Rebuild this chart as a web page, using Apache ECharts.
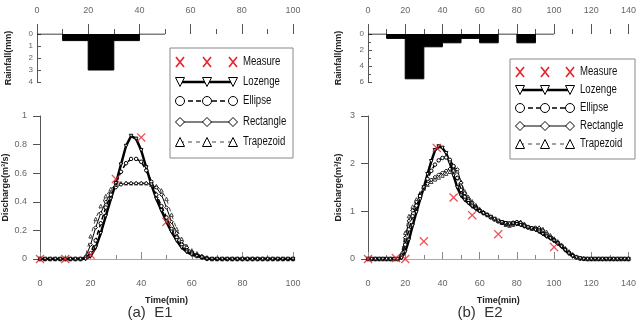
<!DOCTYPE html>
<html lang="en">

<head>
  <meta charset="UTF-8">
  <title>Rainfall and discharge E1 / E2</title>
  <script src="https://cdn.jsdelivr.net/npm/echarts@6/dist/echarts.min.js"></script>
</head>

<body style="margin:0">
  <div id="chart" style="width: 639px; height: 321px;"></div>
  <script>
    // rainfall (mm), one value per 10 min block starting at time
    var rainTimeE1 = [0, 10, 20, 30, 40, 50];
    var rainE1 = [0, 0.55, 3, 0.55, 0, 0];
    var rainTimeE2 = [0, 10, 20, 30, 40, 50, 60, 70, 80, 90, 100];
    var rainE2 = [0, 0.55, 5.6, 1.6, 1.1, 0.55, 1.1, 0, 1.1, 0, 0];

    // measured discharge (m3/s)
    var measTimeE1 = [0, 10, 20, 30, 40, 50];
    var measE1 = [0, 0, 0.03, 0.56, 0.85, 0.26];
    var measTimeE2 = [0, 15, 20, 30, 37, 46, 56, 70, 100];
    var measE2 = [0, 0.02, 0, 0.37, 2.33, 1.29, 0.92, 0.52, 0.25];

    // simulated discharge, every 2 min
    var timeE1 = [0, 2, 4, 6, 8, 10, 12, 14, 16, 18, 20, 22, 24, 26, 28, 30, 32, 34, 36, 38,
      40, 42, 44, 46, 48, 50, 52, 54, 56, 58, 60, 62, 64, 66, 68, 70, 72, 74, 76, 78,
      80, 82, 84, 86, 88, 90, 92, 94, 96, 98, 100];
    var lozE1 = [0, 0, 0, 0, 0, 0, 0, 0, 0, 0,
      0.02, 0.08, 0.18, 0.30, 0.42, 0.53, 0.66, 0.79, 0.86, 0.84,
      0.76, 0.64, 0.52, 0.42, 0.34, 0.26, 0.19, 0.13, 0.08, 0.05,
      0.03, 0.02, 0.01, 0, 0, 0, 0, 0, 0, 0,
      0, 0, 0, 0, 0, 0, 0, 0, 0, 0, 0];
    var ellE1 = [0, 0, 0, 0, 0, 0, 0, 0, 0, 0.01,
      0.04, 0.13, 0.25, 0.36, 0.45, 0.53, 0.61, 0.67, 0.70, 0.70,
      0.68, 0.62, 0.54, 0.45, 0.37, 0.29, 0.21, 0.15, 0.10, 0.06,
      0.04, 0.02, 0.01, 0, 0, 0, 0, 0, 0, 0,
      0, 0, 0, 0, 0, 0, 0, 0, 0, 0, 0];
    var recE1 = [0, 0, 0, 0, 0, 0, 0, 0, 0, 0.01,
      0.10, 0.22, 0.32, 0.40, 0.46, 0.50, 0.52, 0.53, 0.53, 0.53,
      0.53, 0.53, 0.52, 0.50, 0.45, 0.36, 0.26, 0.18, 0.12, 0.08,
      0.05, 0.03, 0.02, 0.01, 0, 0, 0, 0, 0, 0,
      0, 0, 0, 0, 0, 0, 0, 0, 0, 0, 0];
    var trapE1 = [0, 0, 0, 0, 0, 0, 0, 0, 0, 0.02,
      0.16, 0.28, 0.37, 0.44, 0.49, 0.52, 0.53, 0.53, 0.53, 0.53,
      0.53, 0.53, 0.52, 0.51, 0.48, 0.42, 0.31, 0.21, 0.14, 0.09,
      0.06, 0.04, 0.02, 0.01, 0, 0, 0, 0, 0, 0,
      0, 0, 0, 0, 0, 0, 0, 0, 0, 0, 0];

    var timeE2 = [0, 2, 4, 6, 8, 10, 12, 14, 16, 18, 20, 22, 24, 26, 28, 30, 32, 34, 36, 38,
      40, 42, 44, 46, 48, 50, 52, 54, 56, 58, 60, 62, 64, 66, 68, 70, 72, 74, 76, 78,
      80, 82, 84, 86, 88, 90, 92, 94, 96, 98, 100, 102, 104, 106, 108, 110, 112, 114, 116, 118,
      120, 122, 124, 126, 128, 130, 132, 134, 136, 138, 140];
    var lozE2 = [0, 0, 0, 0, 0, 0, 0, 0, 0, 0.02,
      0.15, 0.40, 0.70, 0.98, 1.25, 1.50, 1.78, 2.05, 2.28, 2.36,
      2.33, 2.22, 2.02, 1.75, 1.50, 1.33, 1.24, 1.17, 1.10, 1.05,
      1.00, 0.96, 0.92, 0.88, 0.84, 0.80, 0.77, 0.75, 0.74, 0.74,
      0.73, 0.71, 0.68, 0.66, 0.64, 0.61, 0.57, 0.52, 0.47, 0.43,
      0.38, 0.32, 0.26, 0.18, 0.11, 0.06, 0.03, 0.01, 0, 0,
      0, 0, 0, 0, 0, 0, 0, 0, 0, 0, 0];
    var ellE2 = [0, 0, 0, 0, 0, 0, 0, 0, 0, 0.05,
      0.30, 0.62, 0.90, 1.12, 1.32, 1.50, 1.68, 1.85, 1.98, 2.07,
      2.12, 2.13, 2.08, 1.95, 1.70, 1.45, 1.30, 1.22, 1.14, 1.07,
      1.01, 0.96, 0.92, 0.87, 0.83, 0.79, 0.76, 0.74, 0.74, 0.76,
      0.77, 0.75, 0.70, 0.66, 0.64, 0.63, 0.60, 0.55, 0.49, 0.44,
      0.39, 0.33, 0.27, 0.20, 0.13, 0.07, 0.03, 0.01, 0, 0,
      0, 0, 0, 0, 0, 0, 0, 0, 0, 0, 0];
    var recE2 = [0, 0, 0, 0, 0, 0, 0, 0, 0, 0.08,
      0.45, 0.80, 1.02, 1.20, 1.35, 1.48, 1.58, 1.66, 1.72, 1.77,
      1.81, 1.85, 1.89, 1.93, 1.88, 1.60, 1.38, 1.26, 1.18, 1.10,
      1.03, 0.98, 0.93, 0.88, 0.83, 0.79, 0.75, 0.72, 0.71, 0.74,
      0.78, 0.77, 0.72, 0.67, 0.65, 0.66, 0.65, 0.60, 0.53, 0.47,
      0.41, 0.35, 0.28, 0.21, 0.14, 0.08, 0.04, 0.02, 0.01, 0,
      0, 0, 0, 0, 0, 0, 0, 0, 0, 0, 0];
    var trapE2 = [0, 0, 0, 0, 0, 0, 0, 0, 0, 0.12,
      0.55, 0.90, 1.10, 1.25, 1.38, 1.48, 1.56, 1.62, 1.67, 1.71,
      1.75, 1.79, 1.83, 1.86, 1.84, 1.62, 1.42, 1.30, 1.21, 1.13,
      1.05, 0.99, 0.94, 0.89, 0.84, 0.80, 0.76, 0.72, 0.70, 0.72,
      0.77, 0.78, 0.74, 0.68, 0.64, 0.65, 0.66, 0.63, 0.57, 0.50,
      0.43, 0.37, 0.30, 0.23, 0.16, 0.10, 0.05, 0.02, 0.01, 0,
      0, 0, 0, 0, 0, 0, 0, 0, 0, 0, 0];

    var narrow = "'Liberation Sans Narrow', 'Liberation Sans', sans-serif";
    var crossPath = 'path://M0,1L1,0L5,4L9,0L10,1L6,5L10,9L9,10L5,6L1,10L0,9L4,5Z';
    var red = '#e5242b';

    // line look of each model
    var models = [
      { name: 'Lozenge', symbol: 'triangle', rotate: 180, width: 2.5, dash: 'solid', color: '#000' },
      { name: 'Ellipse', symbol: 'circle', rotate: 0, width: 1.6, dash: [5, 3], color: '#000' },
      { name: 'Rectangle', symbol: 'diamond', rotate: 0, width: 1, dash: 'solid', color: '#000' },
      { name: 'Trapezoid', symbol: 'triangle', rotate: 0, width: 1, dash: [4, 4], color: '#444' }
    ];

    function pairs(xs, ys) {
      return xs.map(function (x, i) { return [x, ys[i]]; });
    }

    function rainSeries(idx, xs, ys) {
      return {
        type: 'line', xAxisIndex: idx, yAxisIndex: idx, step: 'end',
        data: pairs(xs, ys), symbol: 'none',
        lineStyle: { color: '#000', width: 1 },
        areaStyle: { color: '#000', opacity: 1 }
      };
    }

    function modelSeries(idx, m, xs, ys) {
      return {
        type: 'line', name: m.name, xAxisIndex: idx, yAxisIndex: idx,
        data: pairs(xs, ys), showAllSymbol: true,
        symbol: m.symbol, symbolRotate: m.rotate, symbolSize: 3.5,
        itemStyle: { color: '#fff', borderColor: m.color, borderWidth: 1 },
        lineStyle: { color: m.color, width: m.width, type: m.dash }
      };
    }

    function measSeries(idx, xs, ys) {
      return {
        type: 'scatter', name: 'Measure', xAxisIndex: idx, yAxisIndex: idx,
        data: pairs(xs, ys), symbol: crossPath, symbolSize: 9, z: 5,
        itemStyle: { color: red }
      };
    }

    function topX(idx, max) {
      return {
        gridIndex: idx, type: 'value', position: 'top', min: 0, max: max, interval: 20,
        axisLine: { show: false },
        axisTick: { show: true, length: 10, lineStyle: { color: '#555' } },
        minorTick: { show: true, splitNumber: 2, length: 5, lineStyle: { color: '#555' } },
        axisLabel: { color: '#666', fontFamily: narrow, fontSize: 9, margin: 19 },
        splitLine: { show: false }
      };
    }

    function bottomX(idx, max) {
      return {
        gridIndex: idx, type: 'value', min: 0, max: max, interval: 20,
        name: 'Time(min)', nameLocation: 'middle', nameGap: 37,
        nameTextStyle: { fontWeight: 'bold', fontSize: 9, color: '#222', fontFamily: 'Liberation Sans, sans-serif' },
        axisLine: { lineStyle: { color: '#aaa' } },
        axisTick: { inside: true, length: 7, lineStyle: { color: '#888' } },
        minorTick: { show: true, splitNumber: 2, length: 4, lineStyle: { color: '#888' } },
        axisLabel: { color: '#666', fontFamily: narrow, fontSize: 9, margin: 20 },
        splitLine: { show: false }
      };
    }

    function rainY(idx, max, step, gap) {
      return {
        gridIndex: idx, type: 'value', inverse: true, min: 0, max: max, interval: step,
        name: 'Rainfall(mm)', nameLocation: 'middle', nameGap: gap,
        nameTextStyle: { fontWeight: 'bold', fontSize: 9, color: '#222', fontFamily: 'Liberation Sans, sans-serif' },
        axisLine: { show: true, lineStyle: { color: '#555' } },
        axisTick: { show: true, inside: true, length: 4, lineStyle: { color: '#555' } },
        minorTick: { show: step > 1, splitNumber: 2, length: 3, lineStyle: { color: '#555' } },
        axisLabel: { color: '#666', fontFamily: narrow, fontSize: 8, margin: 4 },
        splitLine: { show: false }
      };
    }

    function flowY(idx, max, step, gap) {
      return {
        gridIndex: idx, type: 'value', min: 0, max: max, interval: step,
        name: 'Discharge(m\u00b3/s)', nameLocation: 'middle', nameGap: gap,
        nameTextStyle: { fontWeight: 'bold', fontSize: 9, color: '#222', fontFamily: 'Liberation Sans, sans-serif' },
        axisLine: { show: true, lineStyle: { color: '#555' } },
        axisTick: { show: true, length: 7, lineStyle: { color: '#555' } },
        axisLabel: { color: '#666', fontFamily: narrow, fontSize: 9, margin: 13 },
        splitLine: { show: false }
      };
    }

    // boxed legend with three markers per row
    function legend(box, rowY, xs, textX) {
      var els = [{
        type: 'rect', shape: { x: box[0], y: box[1], width: box[2], height: box[3] },
        style: { fill: '#fff', stroke: '#888', lineWidth: 1 }, z: 10
      }];
      var names = ['Measure'].concat(models.map(function (m) { return m.name; }));
      names.forEach(function (name, r) {
        var y = rowY[r];
        els.push({
          type: 'text', x: textX, y: y, z: 11, scaleX: 0.8,
          style: { text: name, fill: '#111', font: '12px Liberation Sans, sans-serif', textVerticalAlign: 'middle' }
        });
        if (r === 0) {
          xs.forEach(function (x) {
            els.push({ type: 'line', z: 11, shape: { x1: x - 4, y1: y - 5, x2: x + 4, y2: y + 5 }, style: { stroke: red, lineWidth: 1.6 } });
            els.push({ type: 'line', z: 11, shape: { x1: x + 4, y1: y - 5, x2: x - 4, y2: y + 5 }, style: { stroke: red, lineWidth: 1.6 } });
          });
          return;
        }
        var m = models[r - 1];
        els.push({
          type: 'line', z: 11, shape: { x1: xs[0], y1: y, x2: xs[2], y2: y },
          style: { stroke: m.color, lineWidth: m.width, lineDash: m.dash === 'solid' ? null : m.dash }
        });
        xs.forEach(function (x) {
          var s = 4.5, shape;
          if (m.name === 'Ellipse') {
            els.push({ type: 'circle', z: 12, shape: { cx: x, cy: y, r: s }, style: { fill: '#fff', stroke: '#000', lineWidth: 1 } });
            return;
          }
          if (m.name === 'Lozenge') shape = [[x - s, y - s], [x + s, y - s], [x, y + s]];
          if (m.name === 'Rectangle') shape = [[x - s, y], [x, y - s], [x + s, y], [x, y + s]];
          if (m.name === 'Trapezoid') shape = [[x - s, y + s], [x + s, y + s], [x, y - s]];
          els.push({ type: 'polygon', z: 12, shape: { points: shape }, style: { fill: '#fff', stroke: '#000', lineWidth: 1 } });
        });
      });
      return els;
    }

    var series = [
      rainSeries(0, rainTimeE1, rainE1),
      rainSeries(2, rainTimeE2, rainE2)
    ];
    var dataE1 = [lozE1, ellE1, recE1, trapE1];
    var dataE2 = [lozE2, ellE2, recE2, trapE2];
    models.slice().reverse().forEach(function (m) {
      var k = models.indexOf(m);
      series.push(modelSeries(1, m, timeE1, dataE1[k]));
      series.push(modelSeries(3, m, timeE2, dataE2[k]));
    });
    series.push(measSeries(1, measTimeE1, measE1));
    series.push(measSeries(3, measTimeE2, measE2));

    var graphics = []
      .concat(legend([170, 48, 123, 110], [62, 82, 101, 122, 142], [180, 207, 233], 243))
      .concat(legend([510, 59, 125, 100], [72, 90, 108, 126, 144], [520, 545, 570], 580))
      .concat([
        { type: 'text', x: 150, y: 313, style: { text: '(a)  E1', fill: '#333', font: '15px Liberation Sans, sans-serif', textAlign: 'center', textVerticalAlign: 'middle' } },
        { type: 'text', x: 480, y: 313, style: { text: '(b)  E2', fill: '#333', font: '15px Liberation Sans, sans-serif', textAlign: 'center', textVerticalAlign: 'middle' } }
      ]);

    var chart = echarts.init(document.getElementById('chart'));
    var option = {
      animation: false,
      backgroundColor: '#fff',
      grid: [
        { left: 37, width: 256, top: 34, height: 48 },
        { left: 37, width: 256, top: 116, height: 143 },
        { left: 368, width: 262, top: 34, height: 48 },
        { left: 368, width: 262, top: 116, height: 143 }
      ],
      xAxis: [topX(0, 100), bottomX(1, 100), topX(2, 140), bottomX(3, 140)],
      yAxis: [rainY(0, 4, 1, 24), flowY(1, 1, 0.2, 30), rainY(2, 6, 2, 25), flowY(3, 3, 1, 25)],
      series: series,
      graphic: graphics
    };
    chart.setOption(option);
  </script>
</body>

</html>
